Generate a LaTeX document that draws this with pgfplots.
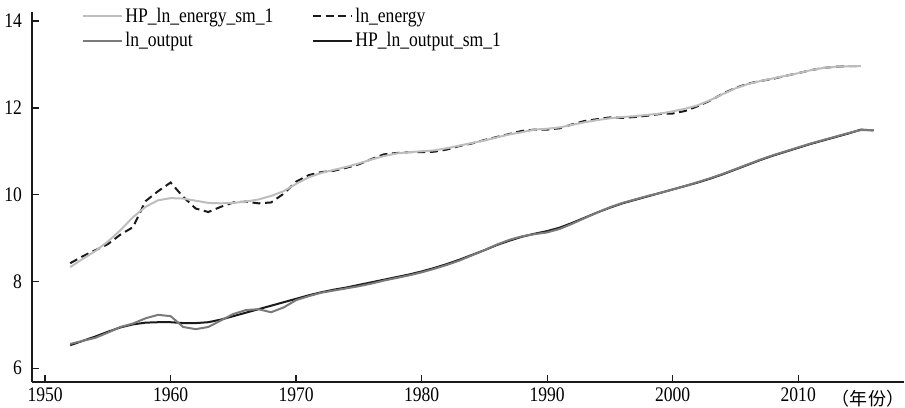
\documentclass[border=0pt]{standalone}
\usepackage{pgfplots}
\usepackage{pgfplotstable}
\pgfplotsset{compat=1.18}
\usepackage{fontspec}
\setmainfont{Liberation Serif}[FakeStretch=0.85]
\newfontfamily\cjk{Noto Sans CJK SC}
\definecolor{lightg}{HTML}{BDBDBD}
\definecolor{midg}{HTML}{7A7A7A}
\definecolor{darkk}{HTML}{1A1A1A}

\pgfplotstableread{
year hpe lne
1952 8.33 8.42
1953 8.52 8.58
1954 8.70 8.72
1955 8.92 8.86
1956 9.18 9.08
1957 9.48 9.25
1958 9.72 9.85
1959 9.87 10.08
1960 9.92 10.28
1961 9.91 9.95
1962 9.86 9.68
1963 9.81 9.60
1964 9.80 9.72
1965 9.81 9.82
1966 9.84 9.84
1967 9.89 9.80
1968 9.97 9.82
1969 10.08 10.02
1970 10.25 10.30
1971 10.40 10.45
1972 10.50 10.52
1973 10.57 10.55
1974 10.64 10.62
1975 10.72 10.70
1976 10.81 10.82
1977 10.89 10.93
1978 10.95 10.96
1979 10.98 10.98
1980 11.00 10.98
1981 11.02 10.99
1982 11.07 11.04
1983 11.13 11.12
1984 11.19 11.18
1985 11.25 11.26
1986 11.32 11.33
1987 11.39 11.40
1988 11.44 11.47
1989 11.50 11.50
1990 11.52 11.50
1991 11.55 11.53
1992 11.61 11.62
1993 11.67 11.70
1994 11.72 11.74
1995 11.76 11.78
1996 11.79 11.77
1997 11.81 11.79
1998 11.84 11.82
1999 11.87 11.86
2000 11.92 11.87
2001 11.98 11.93
2002 12.06 12.04
2003 12.18 12.17
2004 12.32 12.33
2005 12.45 12.46
2006 12.55 12.56
2007 12.62 12.62
2008 12.68 12.67
2009 12.74 12.74
2010 12.80 12.80
2011 12.87 12.87
2012 12.92 12.92
2013 12.95 12.95
2014 12.96 12.96
2015 12.96 12.96
}\energy

\pgfplotstableread{
year lno hpo
1952 6.56 6.53
1953 6.63 6.63
1954 6.70 6.73
1955 6.82 6.84
1956 6.95 6.94
1957 7.03 7.01
1958 7.15 7.05
1959 7.23 7.06
1960 7.20 7.06
1961 6.95 7.04
1962 6.90 7.04
1963 6.95 7.06
1964 7.10 7.12
1965 7.25 7.20
1966 7.34 7.28
1967 7.36 7.36
1968 7.29 7.44
1969 7.40 7.52
1970 7.57 7.60
1971 7.66 7.68
1972 7.74 7.75
1973 7.79 7.81
1974 7.84 7.86
1975 7.89 7.92
1976 7.95 7.98
1977 8.02 8.04
1978 8.08 8.10
1979 8.14 8.16
1980 8.21 8.23
1981 8.29 8.31
1982 8.38 8.40
1983 8.48 8.50
1984 8.60 8.61
1985 8.72 8.72
1986 8.85 8.84
1987 8.96 8.94
1988 9.04 9.03
1989 9.09 9.10
1990 9.13 9.16
1991 9.21 9.24
1992 9.33 9.35
1993 9.46 9.47
1994 9.59 9.59
1995 9.71 9.70
1996 9.81 9.80
1997 9.89 9.88
1998 9.97 9.96
1999 10.04 10.04
2000 10.12 10.12
2001 10.20 10.20
2002 10.29 10.28
2003 10.38 10.37
2004 10.48 10.47
2005 10.59 10.58
2006 10.70 10.69
2007 10.81 10.80
2008 10.91 10.90
2009 11.00 10.99
2010 11.09 11.08
2011 11.18 11.17
2012 11.26 11.25
2013 11.34 11.33
2014 11.42 11.41
2015 11.49 11.50
2016 11.49 11.48
}\output

\begin{document}
\begin{tikzpicture}
\begin{axis}[
  scale only axis,
  width=654pt, height=277.5pt,
  xmin=1948.96, xmax=2018.45,
  ymin=5.68, ymax=14.21,
  axis x line*=bottom, axis y line*=left,
  axis line style={-, line width=1.1pt, darkk},
  xtick={1950,1960,...,2010},
  ytick={6,8,...,14},
  tick align=inside,
  major tick length=5.5pt,
  tick style={line width=1pt, darkk},
  xticklabel style={/pgf/number format/1000 sep={}, yshift=-1pt},
  yticklabel style={xshift=-4pt},
  /pgf/number format/assume math mode=true,
  tick label style={font=\fontsize{15.5}{16}\selectfont},
  legend columns=2,
  legend style={draw=none, fill=none, inner sep=0pt, at={(rel axis cs:0.057,1)}, yshift=4pt, anchor=north west,
    font=\fontsize{15.5}{16}\selectfont, row sep=4pt,
    nodes={inner xsep=2pt, inner ysep=1pt},
    /tikz/every even column/.append style={column sep=27pt}},
  legend cell align=left,
  legend image code/.code={\draw[#1] (0pt,0pt) -- (29pt,0pt);},
  clip=false,
]
\addlegendimage{lightg, line width=1.5pt}
\addlegendentry{HP\_ln\_energy\_sm\_1}
\addlegendimage{darkk, line width=1.5pt, dash pattern=on 6pt off 3.5pt}
\addlegendentry{ln\_energy}
\addlegendimage{midg, line width=1.5pt}
\addlegendentry{ln\_output}
\addlegendimage{darkk, line width=1.5pt}
\addlegendentry{HP\_ln\_output\_sm\_1}

\addplot[forget plot, darkk, line width=1.5pt, dash pattern=on 6pt off 3.5pt] table[x=year, y=lne] {\energy};
\addplot[forget plot, lightg, line width=1.5pt] table[x=year, y=hpe] {\energy};
\addplot[forget plot, darkk, line width=1.5pt] table[x=year, y=hpo] {\output};
\addplot[forget plot, midg, line width=1.5pt] table[x=year, y=lno] {\output};

\node[anchor=north east, inner sep=0pt, yshift=-6pt] at (rel axis cs:1,0) {\cjk\fontsize{13.5}{14.5}\selectfont （年份）};
\end{axis}
\path ([yshift=9pt]current axis.north west);
\end{tikzpicture}
\end{document}
